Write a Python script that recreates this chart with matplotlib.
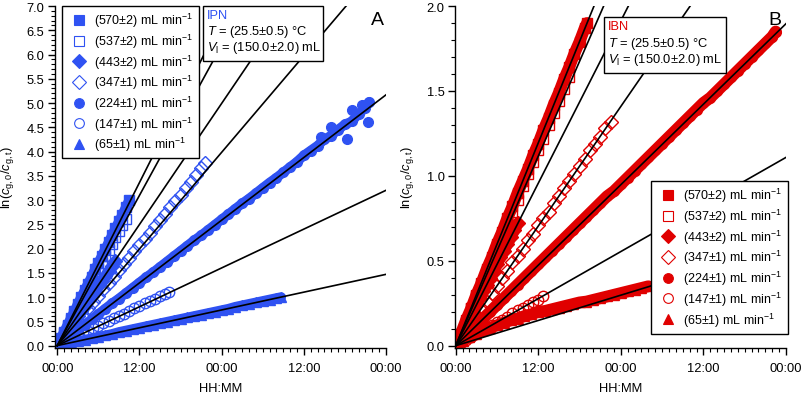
import matplotlib
matplotlib.use('Agg')
import matplotlib.pyplot as plt
from matplotlib.lines import Line2D
from matplotlib.patches import Rectangle
from matplotlib.ticker import MultipleLocator, FixedLocator, FixedFormatter, FormatStrFormatter

plt.rcParams['font.family'] = ['Liberation Sans', 'DejaVu Sans']
plt.rcParams['mathtext.fontset'] = 'custom'
plt.rcParams['mathtext.rm'] = 'Liberation Sans'
plt.rcParams['mathtext.it'] = 'Liberation Sans:italic'
plt.rcParams['font.size'] = 9.3

# legend labels / marker styles (same in both panels)
flows = ['(570±2)', '(537±2)', '(443±2)', '(347±1)', '(224±1)', '(147±1)', '(65±1)']
markers = ['s', 's', 'D', 'D', 'o', 'o', '^']
filled = [True, False, True, False, True, False, True]

# x tick labels (hours 0, 12, 24, 36, 48)
xticks_h = [0, 12, 24, 36, 48]
xtick_lbl = ['00:00', '12:00', '00:00', '12:00', '00:00']

# ---- panel A (IPN): time in hours, ln(c0/ct)
a570_t = [0, 0.5, 1, 1.5, 2, 2.5, 3, 3.5, 4, 4.5, 5, 5.5, 6, 6.5, 7, 7.5, 8, 8.5, 9, 9.5, 10, 10.5]
a570_y = [0.00, 0.15, 0.29, 0.43, 0.57, 0.71, 0.86, 1.00, 1.14, 1.28, 1.42, 1.57, 1.71, 1.85, 1.99, 2.13, 2.28, 2.42, 2.56, 2.70, 2.85, 3.00]
a537_t = [0, 0.5, 1, 1.5, 2, 2.5, 3, 3.5, 4, 4.5, 5, 5.5, 6, 6.5, 7, 7.5, 8, 8.5, 9, 9.5, 10]
a537_y = [0.00, 0.13, 0.26, 0.40, 0.53, 0.66, 0.79, 0.92, 1.05, 1.18, 1.31, 1.44, 1.57, 1.70, 1.84, 1.97, 2.10, 2.23, 2.36, 2.49, 2.62]
a443_t = [0, 0.5, 1, 1.5, 2, 2.5, 3, 3.5, 4, 4.5, 5, 5.5, 6, 6.5, 7, 7.5, 8, 8.5]
a443_y = [0.00, 0.10, 0.21, 0.31, 0.41, 0.51, 0.62, 0.72, 0.82, 0.92, 1.03, 1.13, 1.23, 1.33, 1.44, 1.54, 1.64, 1.74]
a347_t = [0, 0.75, 1.5, 2.25, 3, 3.75, 4.5, 5.25, 6, 6.75, 7.5, 8.25, 9, 9.75, 10.5, 11.25, 12, 12.75,
          13.5, 14.25, 15, 15.75, 16.5, 17.25, 18, 18.75, 19.5, 20.25, 21, 21.5]
a347_y = [0.00, 0.13, 0.25, 0.38, 0.51, 0.64, 0.77, 0.90, 1.03, 1.16, 1.29, 1.42, 1.55, 1.68, 1.81, 1.94, 2.07, 2.20,
          2.33, 2.46, 2.59, 2.72, 2.85, 2.98, 3.11, 3.24, 3.38, 3.52, 3.66, 3.76]
a224_t = [0, 1, 2, 3, 4, 5, 6, 7, 8, 9, 10, 11, 12, 13, 14, 15, 16, 17, 18, 19, 20, 21, 22, 23,
          24, 25, 26, 27, 28, 29, 30, 31, 32, 33, 34, 35, 36, 37, 38, 39, 40, 41, 42, 43, 44, 45, 45.5]
a224_y = [0.00, 0.11, 0.22, 0.33, 0.43, 0.54, 0.65, 0.76, 0.87, 0.97, 1.08, 1.19, 1.30, 1.41, 1.51, 1.62, 1.73, 1.84,
          1.95, 2.06, 2.17, 2.27, 2.38, 2.49, 2.60, 2.71, 2.82, 2.93, 3.03, 3.14, 3.25, 3.36, 3.46, 3.57, 3.68, 3.79,
          3.92, 4.02, 4.12, 4.25, 4.33, 4.45, 4.56, 4.62, 4.78, 4.90, 5.02]
a224_xt = [38.5, 40, 42.3, 43, 44.5, 45.3]     # scattered points near the end
a224_xy = [4.30, 4.50, 4.26, 4.85, 4.95, 4.61]
a147_t = [0, 0.75, 1.5, 2.25, 3, 3.75, 4.5, 5.25, 6, 6.75, 7.5, 8.25, 9, 9.75, 10.5, 11.25, 12, 12.75,
          13.5, 14.25, 15, 15.75, 16.25]
a147_y = [0.00, 0.05, 0.10, 0.15, 0.20, 0.26, 0.31, 0.36, 0.41, 0.46, 0.51, 0.56, 0.61, 0.66, 0.71, 0.77, 0.82, 0.87,
          0.92, 0.97, 1.02, 1.07, 1.10]
a65_t = [0, 1, 2, 3, 4, 5, 6, 7, 8, 9, 10, 11, 12, 13, 14, 15, 16, 17, 18, 19, 20, 21, 22, 23, 24, 25,
         26, 27, 28, 29, 30, 31, 32, 32.7]
a65_y = [0.00, 0.03, 0.06, 0.09, 0.12, 0.15, 0.18, 0.21, 0.24, 0.28, 0.31, 0.34, 0.37, 0.40, 0.43, 0.46, 0.49, 0.52,
         0.55, 0.58, 0.61, 0.64, 0.67, 0.70, 0.73, 0.76, 0.80, 0.83, 0.86, 0.89, 0.92, 0.95, 0.98, 1.00]
a_slopes = [0.280, 0.258, 0.208, 0.166, 0.1077, 0.0667, 0.0306]   # fit lines, 1/h

# ---- panel B (IBN)
b570_t = [0, 0.75, 1.5, 2.25, 3, 3.75, 4.5, 5.25, 6, 6.75, 7.5, 8.25, 9, 9.75, 10.5, 11.25, 12, 12.75,
          13.5, 14.25, 15, 15.75, 16.5, 17.25, 18, 18.75, 19.1]
b570_y = [0.00, 0.07, 0.15, 0.22, 0.30, 0.37, 0.45, 0.52, 0.60, 0.67, 0.75, 0.82, 0.90, 0.97, 1.04, 1.12, 1.19, 1.27,
          1.34, 1.42, 1.49, 1.57, 1.64, 1.72, 1.79, 1.87, 1.90]
b537_t = [0, 0.75, 1.5, 2.25, 3, 3.75, 4.5, 5.25, 6, 6.75, 7.5, 8.25, 9, 9.75, 10.5, 11.25, 12, 12.75,
          13.5, 14.25, 15, 15.75, 16.5]
b537_y = [0.00, 0.07, 0.14, 0.22, 0.29, 0.36, 0.43, 0.50, 0.58, 0.65, 0.72, 0.79, 0.86, 0.94, 1.01, 1.08, 1.15, 1.22,
          1.30, 1.37, 1.44, 1.51, 1.58]
b443_t = [0, 0.5, 1, 1.5, 2, 2.5, 3, 3.5, 4, 4.5, 5, 5.5, 6, 6.5, 7, 7.5, 8, 8.5, 9]
b443_y = [0.00, 0.04, 0.08, 0.12, 0.16, 0.20, 0.24, 0.28, 0.32, 0.36, 0.40, 0.44, 0.48, 0.52, 0.56, 0.60, 0.64, 0.68, 0.72]
b347_t = [0, 0.75, 1.5, 2.25, 3, 3.75, 4.5, 5.25, 6, 6.75, 7.5, 8.25, 9, 9.75, 10.5, 11.25, 12, 12.75,
          13.5, 14.25, 15, 15.75, 16.5, 17.25, 18, 18.75, 19.5, 20.25, 21, 21.75, 22.5]
b347_y = [0.00, 0.044, 0.088, 0.13, 0.18, 0.22, 0.26, 0.31, 0.35, 0.40, 0.44, 0.49, 0.53, 0.57, 0.62, 0.66, 0.71, 0.75,
          0.79, 0.84, 0.88, 0.93, 0.97, 1.01, 1.06, 1.10, 1.15, 1.19, 1.23, 1.28, 1.32]
b224_t = [0, 1, 2, 3, 4, 5, 6, 7, 8, 9, 10, 11, 12, 13, 14, 15, 16, 17, 18, 19, 20, 21, 22, 23,
          24, 25, 26, 27, 28, 29, 30, 31, 32, 33, 34, 35, 36, 37, 38, 39, 40, 41, 42, 43, 44, 45, 46, 46.5]
b224_y = [0.00, 0.04, 0.08, 0.12, 0.16, 0.20, 0.24, 0.28, 0.32, 0.36, 0.40, 0.44, 0.48, 0.52, 0.56, 0.60, 0.64, 0.68,
          0.72, 0.76, 0.80, 0.84, 0.88, 0.91, 0.95, 0.99, 1.03, 1.07, 1.11, 1.15, 1.19, 1.23, 1.27, 1.31, 1.35, 1.39,
          1.43, 1.46, 1.50, 1.54, 1.58, 1.62, 1.66, 1.70, 1.74, 1.78, 1.82, 1.85]
b147_t = [0, 0.75, 1.5, 2.25, 3, 3.75, 4.5, 5.25, 6, 6.75, 7.5, 8.25, 9, 9.75, 10.5, 11.25, 12, 12.75]
b147_y = [0.00, 0.017, 0.034, 0.051, 0.068, 0.086, 0.10, 0.12, 0.14, 0.15, 0.17, 0.19, 0.21, 0.22, 0.24, 0.26, 0.27, 0.29]
b65_t = [0, 1, 2, 3, 4, 5, 6, 7, 8, 9, 10, 11, 12, 13, 14, 15, 16, 17, 18, 19, 20, 21, 22, 23, 24, 25, 26, 27, 28]
b65_y = [0.00, 0.03, 0.05, 0.07, 0.09, 0.105, 0.12, 0.135, 0.15, 0.16, 0.175, 0.185, 0.20, 0.205, 0.215, 0.225,
         0.235, 0.245, 0.255, 0.26, 0.27, 0.28, 0.29, 0.30, 0.31, 0.32, 0.33, 0.34, 0.35]
b_slopes = [0.0995, 0.093, 0.0797, 0.0587, 0.0395, 0.0231, 0.0124]

BLUE = '#2f52f2'
RED = '#e00000'


def draw_panel(ax, series, slopes, color, band, ymax, ybot, xleft, name, letter, leg_anchor, box):
    # data bands (drawn back to front: slow flows first)
    for i in reversed(range(7)):
        t, y = series[i]
        if filled[i]:
            ax.plot(t, y, color=color, lw=band, marker=markers[i], ms=7, mec=color,
                    solid_capstyle='round', zorder=2)
        else:
            ax.plot(t, y, ls='none', marker=markers[i], ms=7.5, mfc='none', mec=color, mew=1.0, zorder=2)
    # fitted lines through origin
    for k in slopes:
        ax.plot([0, 48], [0, 48 * k], color='black', lw=1.2, zorder=3)

    ax.set_xlim(xleft, 48)
    ax.set_ylim(ybot, ymax)
    ax.spines['top'].set_visible(False)
    ax.spines['right'].set_visible(False)
    for s in ('left', 'bottom'):
        ax.spines[s].set_linewidth(1.0)
    ax.xaxis.set_major_locator(FixedLocator(xticks_h))
    ax.xaxis.set_major_formatter(FixedFormatter(xtick_lbl))
    ax.xaxis.set_minor_locator(MultipleLocator(1))
    ax.yaxis.set_major_locator(MultipleLocator(0.5))
    ax.yaxis.set_minor_locator(MultipleLocator(0.1))
    ax.yaxis.set_major_formatter(FormatStrFormatter('%.1f'))
    ax.tick_params(which='major', direction='out', length=5, width=1, labelsize=9.3, pad=2.5)
    ax.tick_params(which='minor', direction='out', length=3, width=0.8)
    ax.tick_params(axis='x', which='major', pad=5)

    ax.set_xlabel('HH:MM')
    ax.xaxis.set_label_coords(0.5, -0.1)
    ax.set_ylabel(r'ln($c_{\mathrm{g,0}}$/$c_{\mathrm{g,t}}$)')
    ax.yaxis.set_label_coords(-0.118, 0.5)

    handles = [Line2D([], [], ls='none', marker=markers[i], ms=7, color=color,
                      mfc=color if filled[i] else 'white', mec=color, mew=0.8) for i in range(7)]
    labels = [f + r' mL min$^{-1}$' for f in flows]
    leg = ax.legend(handles, labels, loc='upper left', bbox_to_anchor=leg_anchor, borderaxespad=0,
                    frameon=True, fancybox=False, framealpha=1, edgecolor='black', fontsize=9.0,
                    handlelength=1.9, handletextpad=0.3, labelspacing=0.2, borderpad=0.4)
    leg.get_frame().set_linewidth(1.0)
    leg.set_zorder(6)

    x0, y0, x1, y1 = box
    ax.add_patch(Rectangle((x0, y0), x1 - x0, y1 - y0, transform=ax.transAxes, fc='white', ec='black',
                           lw=1.0, zorder=6, clip_on=False))
    dy = (y1 - y0) / 3.4
    ax.text(x0 + 0.012, y1 - 0.55 * dy, name, color=color, transform=ax.transAxes, va='center', zorder=7)
    ax.text(x0 + 0.012, y1 - 1.55 * dy, r'$T$ = (25.5±0.5) °C', transform=ax.transAxes, va='center', zorder=7)
    ax.text(x0 + 0.012, y1 - 2.55 * dy, r'$V_{\mathrm{l}}$ = (150.0±2.0) mL', transform=ax.transAxes,
            va='center', zorder=7)
    ax.text(letter[0], letter[1], letter[2], transform=ax.transAxes, ha='right', va='top', fontsize=14, zorder=7)


fig = plt.figure(figsize=(8.03, 4.02), dpi=100)
axA = fig.add_axes([0.0685, 0.1318, 0.4122, 0.8507])
axB = fig.add_axes([0.5666, 0.1318, 0.4122, 0.8507])

seriesA = [(a570_t, a570_y), (a537_t, a537_y), (a443_t, a443_y), (a347_t, a347_y),
           (a224_t, a224_y), (a147_t, a147_y), (a65_t, a65_y)]
seriesB = [(b570_t, b570_y), (b537_t, b537_y), (b443_t, b443_y), (b347_t, b347_y),
           (b224_t, b224_y), (b147_t, b147_y), (b65_t, b65_y)]

draw_panel(axA, seriesA, a_slopes, BLUE, 7, 7.0, -0.05, -0.33, 'IPN', (0.995, 0.985, 'A'),
           (0.021, 1.0), (0.447, 0.839, 0.810, 1.0))
axA.plot(a224_xt, a224_xy, ls='none', marker='o', ms=7, color=BLUE, zorder=2)

draw_panel(axB, seriesB, b_slopes, RED, 8.5, 2.0, -0.0135, -0.1, 'IBN', (0.985, 0.985, 'B'),
           (0.592, 0.488), (0.450, 0.804, 0.819, 0.968))

fig.savefig('out.png', dpi=100)
